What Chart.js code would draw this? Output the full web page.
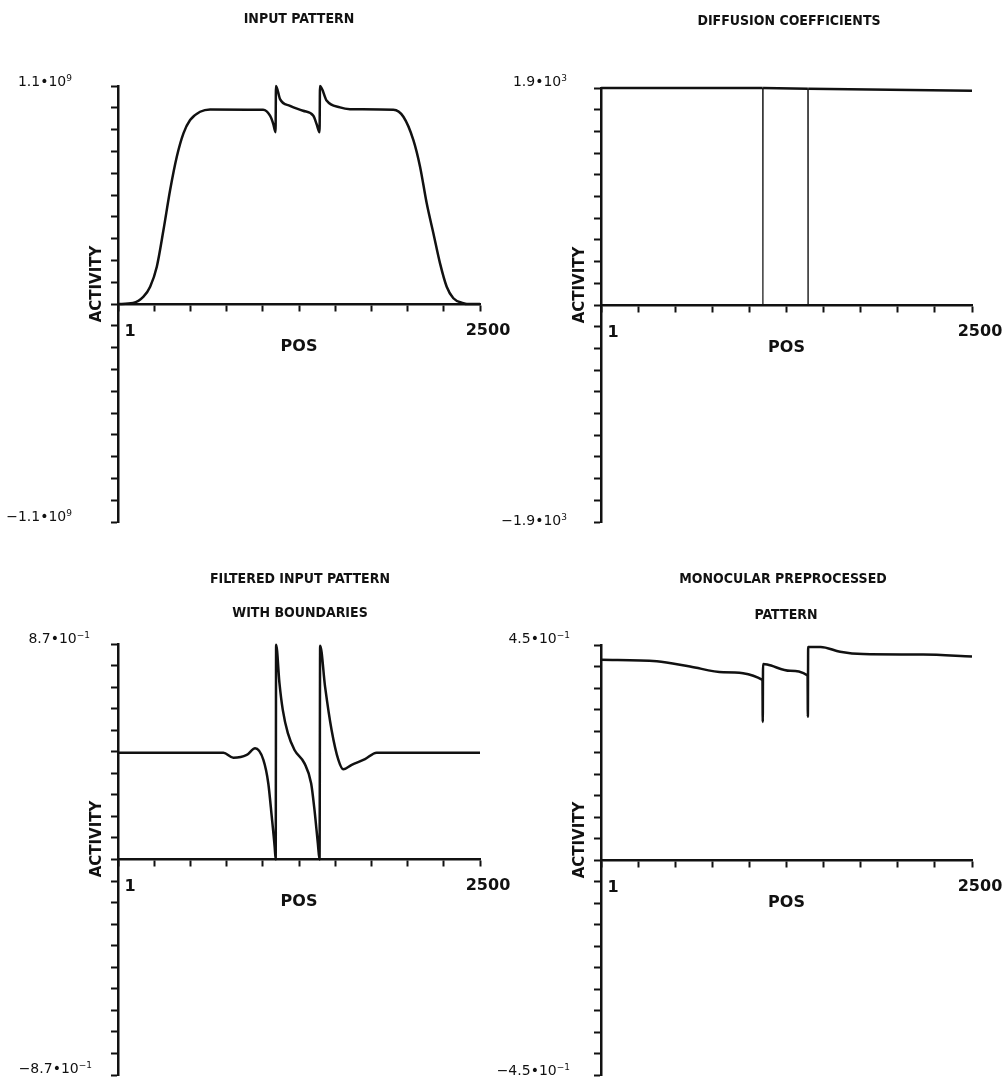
<!DOCTYPE html>
<html>
<head>
<meta charset="utf-8">
<script src="https://cdn.jsdelivr.net/npm/chart.js@4.4.1/dist/chart.umd.min.js"></script>
<style>
body { margin: 0; background: #fff; }
#page { position: relative; width: 1005px; height: 1082px; overflow: hidden; color: #111; font-family: "DejaVu Sans", sans-serif; }
canvas { position: absolute; left: 0; top: 0; }
.lbl { position: absolute; white-space: nowrap; font-weight: bold; }
.title { font-family: "Liberation Sans Narrow", "DejaVu Sans Condensed", "Liberation Sans", sans-serif; font-size: 14px; }
.big { font-size: 16px; }
.val { font-weight: normal; font-size: 14px; }
.val sup { font-size: 9px; }
.rot { transform: translate(-50%, -50%) rotate(-90deg); font-size: 15px; }
</style>
</head>
<body>
<div id="page">
  <canvas id="g1" width="1005" height="1082"></canvas>
  <canvas id="g2" width="1005" height="1082"></canvas>
  <canvas id="g3" width="1005" height="1082"></canvas>
  <canvas id="g4" width="1005" height="1082"></canvas>
</div>
<script>
// positions 1..2500, values in units of the axis label (1e9, 1e3, 1, 1)
const inputPos = [1, 104, 176, 222, 268, 314, 360, 406, 452, 498, 567, 636, 1002, 1050, 1073, 1088, 1091, 1119, 1188, 1278, 1349, 1372, 1392, 1395, 1442, 1533, 1602, 1902, 1971, 2040, 2086, 2132, 2178, 2224, 2270, 2316, 2385, 2410, 2500];
const inputVal = [0, 0.005, 0.037, 0.087, 0.188, 0.373, 0.575, 0.743, 0.861, 0.928, 0.970, 0.982, 0.980, 0.950, 0.907, 0.867, 1.1, 1.034, 1.0, 0.975, 0.950, 0.907, 0.867, 1.1, 1.025, 0.992, 0.983, 0.980, 0.945, 0.827, 0.693, 0.508, 0.357, 0.205, 0.087, 0.029, 0.004, 0, 0];

const diffPos = [1, 1090, 1091, 1092, 1394, 1395, 1396, 2500];
const diffVal = [1.9, 1.9, 0, 1.9, 1.893, 0, 1.893, 1.875];

const filtPos = [1, 728, 797, 889, 947, 1004, 1038, 1062, 1082, 1089, 1092, 1115, 1138, 1173, 1219, 1288, 1334, 1357, 1380, 1392, 1396, 1430, 1475, 1522, 1556, 1614, 1706, 1786, 2500];
const filtVal = [0.431, 0.431, 0.411, 0.422, 0.449, 0.402, 0.307, 0.172, 0.051, 0, 0.867, 0.712, 0.604, 0.510, 0.442, 0.388, 0.307, 0.2, 0.066, 0, 0.863, 0.698, 0.523, 0.402, 0.364, 0.382, 0.405, 0.431, 0.431];

const monoPos = [1, 376, 600, 825, 1088, 1090, 1092, 1120, 1274, 1392, 1394, 1396, 1480, 1611, 1766, 2170, 2500];
const monoVal = [0.419, 0.416, 0.405, 0.393, 0.377, 0.289, 0.410, 0.409, 0.396, 0.386, 0.300, 0.446, 0.446, 0.436, 0.431, 0.430, 0.426];

const xMax = 2500;
const yMax = [1.1, 1.9, 0.87, 0.45];

const titles = [
  ['INPUT PATTERN', 299, 18],
  ['DIFFUSION COEFFICIENTS', 789, 20],
  ['FILTERED INPUT PATTERN', 300, 578],
  ['WITH BOUNDARIES', 300, 612],
  ['MONOCULAR PREPROCESSED', 783, 578],
  ['PATTERN', 786, 614]
];
const valLabels = [
  ['1.1•10<sup>9</sup>', 72, 81], ['−1.1•10<sup>9</sup>', 72, 516],
  ['1.9•10<sup>3</sup>', 567, 81], ['−1.9•10<sup>3</sup>', 567, 520],
  ['8.7•10<sup>−1</sup>', 90, 638], ['−8.7•10<sup>−1</sup>', 92, 1068],
  ['4.5•10<sup>−1</sup>', 570, 638], ['−4.5•10<sup>−1</sup>', 570, 1070]
];
const axisLabels = [
  // [left axis x, zero y]
  [118, 304], [601, 305], [118, 859], [601, 860]
];

const page = document.getElementById('page');
function addText(html, x, y, cls, anchor) {
  const d = document.createElement('div');
  d.className = 'lbl ' + cls;
  d.innerHTML = html;
  d.style.left = x + 'px';
  d.style.top = y + 'px';
  if (anchor === 'right') d.style.transform = 'translate(-100%, -50%)';
  else if (anchor === 'left') d.style.transform = 'translate(0, -50%)';
  else if (!cls.includes('rot')) d.style.transform = 'translate(-50%, -50%)';
  page.appendChild(d);
}
titles.forEach(t => addText(t[0], t[1], t[2], 'title'));
valLabels.forEach(t => addText(t[0], t[1], t[2], 'val', 'right'));
axisLabels.forEach((a, i) => {
  const right = i % 2 ? 972 : 480;
  addText('ACTIVITY', a[0] - 22, a[1] - 20, 'rot');
  addText('1', a[0] + 12, a[1] + 26, 'big');
  addText('POS', (a[0] + right) / 2 - 0, a[1] + 41, 'big');
  addText('2500', right + 8, a[1] + 25, 'big');
});

function toPoints(xs, ys) {
  return xs.map((x, i) => ({ x: x, y: ys[i] }));
}

function makeChart(id, xs, ys, ymax, area, smooth) {
  new Chart(document.getElementById(id), {
    type: 'line',
    data: {
      datasets: [{
        data: toPoints(xs, ys),
        borderColor: '#111',
        borderWidth: 2.5,
        pointRadius: 0,
        fill: false,
        clip: 6,
        tension: 0,
        cubicInterpolationMode: smooth ? 'monotone' : 'default',
        segment: {
          borderWidth: c => (!smooth && (c.p0.parsed.y === 0 || c.p1.parsed.y === 0)) ? 1.2 : 2.5
        }
      }]
    },
    options: {
      responsive: false,
      animation: false,
      devicePixelRatio: 1,
      layout: { padding: { left: area[0], top: area[1], right: 1005 - area[2], bottom: 1082 - area[3] } },
      plugins: { legend: { display: false }, tooltip: { enabled: false } },
      scales: {
        x: {
          type: 'linear', min: 0, max: xMax,
          position: { y: 0 },
          ticks: { display: false, stepSize: 250 },
          grid: { drawOnChartArea: false, drawTicks: true, tickLength: 6, tickWidth: 2, color: '#111' },
          border: { display: true, color: '#111', width: 2.5 }
        },
        y: {
          type: 'linear', min: -ymax, max: ymax,
          position: { x: 0 },
          ticks: { display: false, stepSize: ymax / 10 },
          grid: { drawOnChartArea: false, drawTicks: true, tickLength: 6, tickWidth: 2, color: '#111' },
          border: { display: true, color: '#111', width: 2.5 }
        }
      }
    }
  });
}

makeChart('g1', inputPos, inputVal, yMax[0], [118, 86, 480, 522], true);
makeChart('g2', diffPos, diffVal, yMax[1], [601, 88, 972, 522], false);
makeChart('g3', filtPos, filtVal, yMax[2], [118, 644, 480, 1075], true);
makeChart('g4', monoPos, monoVal, yMax[3], [601, 645, 972, 1075], true);
</script>
</body>
</html>
